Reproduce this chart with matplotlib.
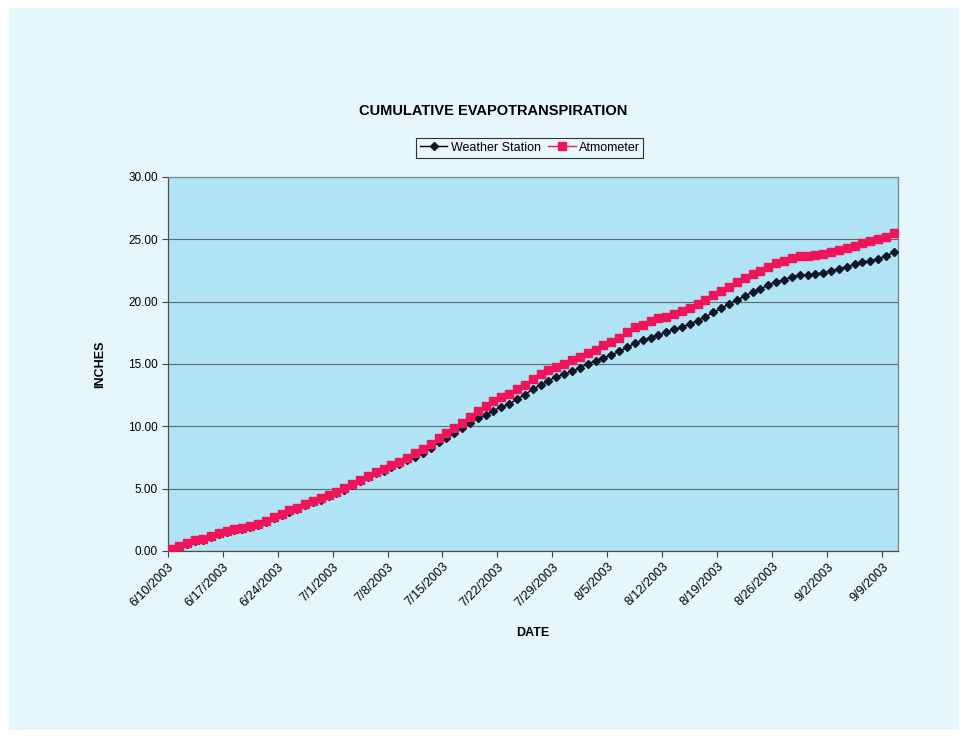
import datetime as dt
import numpy as np
import matplotlib
matplotlib.use('Agg')
import matplotlib.pyplot as plt
import matplotlib.dates as mdates
from matplotlib.patches import Rectangle

# Daily cumulative ET (inches), starting 6/10/2003
start_date = dt.date(2003, 6, 10)
weather_station = [
    0.10, 0.38, 0.58, 0.80, 0.88, 1.10, 1.33, 1.53, 1.66, 1.74,
    1.93, 2.09, 2.33, 2.65, 2.89, 3.15, 3.36, 3.66, 3.92, 4.11,
    4.38, 4.62, 4.93, 5.28, 5.60, 5.92, 6.24, 6.45, 6.73, 7.00,
    7.28, 7.56, 7.83, 8.23, 8.72, 9.04, 9.44, 9.84, 10.24, 10.67,
    10.91, 11.25, 11.57, 11.79, 12.19, 12.54, 12.97, 13.31, 13.66, 13.98,
    14.17, 14.43, 14.70, 15.00, 15.26, 15.50, 15.72, 16.01, 16.33, 16.66,
    16.92, 17.12, 17.32, 17.54, 17.78, 17.94, 18.20, 18.47, 18.79, 19.14,
    19.46, 19.81, 20.13, 20.45, 20.77, 21.01, 21.33, 21.60, 21.73, 22.00,
    22.13, 22.13, 22.21, 22.32, 22.48, 22.64, 22.80, 22.99, 23.15, 23.28,
    23.44, 23.68, 23.95,
]
atmometer = [
    0.13, 0.43, 0.64, 0.88, 0.96, 1.18, 1.42, 1.63, 1.76, 1.84,
    2.03, 2.19, 2.43, 2.75, 2.99, 3.26, 3.47, 3.77, 4.03, 4.22,
    4.49, 4.73, 5.05, 5.40, 5.72, 6.04, 6.36, 6.58, 6.87, 7.16,
    7.45, 7.83, 8.15, 8.58, 9.09, 9.49, 9.86, 10.29, 10.72, 11.25,
    11.63, 12.00, 12.35, 12.57, 12.97, 13.34, 13.77, 14.17, 14.49, 14.73,
    15.00, 15.29, 15.56, 15.88, 16.14, 16.49, 16.76, 17.11, 17.56, 17.94,
    18.12, 18.42, 18.66, 18.79, 19.01, 19.25, 19.51, 19.78, 20.13, 20.50,
    20.87, 21.20, 21.57, 21.92, 22.19, 22.45, 22.78, 23.07, 23.23, 23.50,
    23.68, 23.68, 23.76, 23.82, 23.95, 24.14, 24.30, 24.46, 24.67, 24.83,
    24.99, 25.20, 25.47,
]
y_ticks = [0, 5, 10, 15, 20, 25, 30]

dates = [start_date + dt.timedelta(days=i) for i in range(len(weather_station))]
# Excel date axis puts each point in the middle of its day slot
x = mdates.date2num(dates) + 0.5
tick_dates = [start_date + dt.timedelta(days=7 * k) for k in range(14)]

plt.rcParams['font.family'] = ['Liberation Sans', 'DejaVu Sans']

fig = plt.figure(figsize=(9.66, 7.38), dpi=100)
fig.patch.set_facecolor('white')
# scanned page background
fig.patches.append(Rectangle((9 / 966, 8 / 738), 950 / 966, 722 / 738,
                             transform=fig.transFigure, facecolor='#e6f7fc',
                             edgecolor='none', zorder=-10))

ax = fig.add_axes([0.1736, 0.2534, 0.7558, 0.5068])
ax.set_facecolor('#b0e3f4')

ax.plot(x, weather_station, color='black', lw=1, marker='D', ms=4.5,
        mfc='#101828', mec='#101828', label='Weather Station', zorder=3)
ax.plot(x, atmometer, color='#f0145a', lw=1, marker='s', ms=6,
        mfc='#f0145a', mec='#f0145a', label='Atmometer', zorder=4)

ax.set_ylim(0, 30)
ax.set_yticks(y_ticks)
ax.set_yticklabels([f'{v:.2f}' for v in y_ticks], fontsize=8.5)
ax.set_xlim(mdates.date2num(start_date), mdates.date2num(start_date) + len(dates))
ax.set_xticks(mdates.date2num(tick_dates))
ax.set_xticklabels([f'{d.month}/{d.day}/{d.year}' for d in tick_dates],
                   rotation=45, ha='right', va='top', rotation_mode='anchor',
                   fontsize=9)
ax.tick_params(axis='both', direction='out', length=4, width=0.8,
               color='#404060', pad=3)
ax.grid(axis='y', color='#5a6a70', lw=0.8)
ax.set_axisbelow(True)
for s in ax.spines.values():
    s.set_color('#708a90')
    s.set_linewidth(0.9)
ax.spines['left'].set_color('#505040')
ax.spines['bottom'].set_color('#505040')

ax.set_xlabel('DATE', fontsize=9, fontweight='bold', labelpad=13)
ax.set_ylabel('INCHES', fontsize=9, fontweight='bold', labelpad=16)
fig.text(0.511, 0.849, 'CUMULATIVE EVAPOTRANSPIRATION', ha='center',
         va='center', fontsize=10.5, fontweight='bold')

leg = ax.legend(loc='center', bbox_to_anchor=(0.496, 1.078), ncol=2,
                fontsize=9, frameon=True, fancybox=False, handlelength=2.2,
                handletextpad=0.25, columnspacing=0.6, borderpad=0.3,
                borderaxespad=0, markerscale=0.9)
leg.get_frame().set_edgecolor('black')
leg.get_frame().set_facecolor('#eaf8fc')
leg.get_frame().set_linewidth(0.8)

fig.savefig('out.png', dpi=100)
